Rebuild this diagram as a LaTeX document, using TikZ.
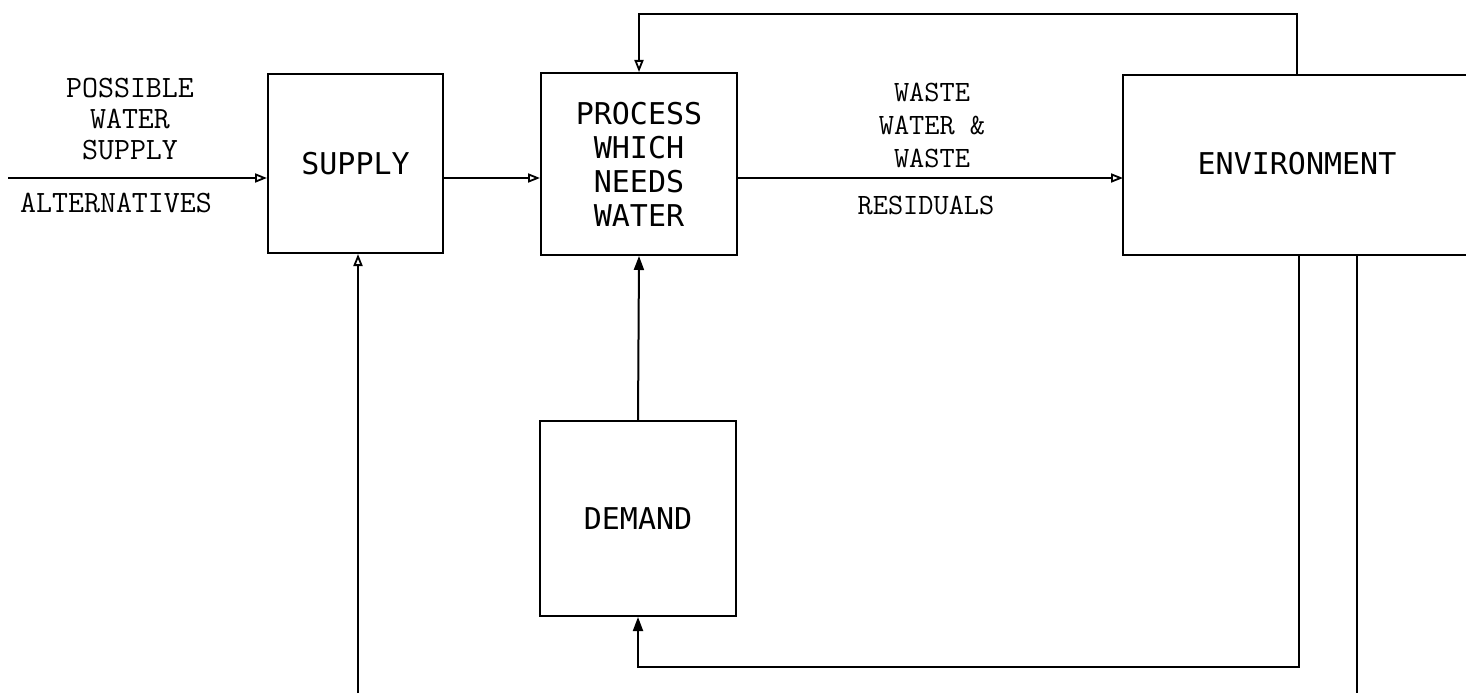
\documentclass[tikz,border=0pt]{standalone}
\usepackage{fontspec}
\newfontfamily\boxfont{DejaVu Sans Mono}
\usetikzlibrary{arrows.meta}
\tikzset{
  blk/.style={draw, line width=2pt, inner sep=0pt, align=center,
    font=\boxfont\fontsize{30}{34}\selectfont},
  lbl/.style={inner sep=0pt, align=center, font=\ttfamily\fontsize{31}{31}\selectfont},
  wlbl/.style={inner sep=0pt, align=center, font=\ttfamily\fontsize{29.5}{33}\selectfont},
  conn/.style={line width=2pt},
  oarrow/.style={conn, -{Triangle[open, length=12pt, width=9pt, line width=1.8pt]}},
  farrow/.style={conn, -{Triangle[length=14pt, width=10pt]}},
}
\begin{document}
\begin{tikzpicture}[x=1pt, y=-1pt]
\useasboundingbox (0,0) rectangle (1466,693);
% boxes
\node[blk, minimum width=175pt, minimum height=179pt] (supply) at (355.5,163.5) {SUPPLY};
\node[blk, minimum width=196pt, minimum height=182pt] (process) at (639,164) {PROCESS\\WHICH\\NEEDS\\WATER};
\node[blk, minimum width=196pt, minimum height=195pt] (demand) at (638,518.5) {DEMAND};
\node[inner sep=0pt, font=\boxfont\fontsize{30}{34}\selectfont] (env) at (1297,164) {ENVIRONMENT};
\coordinate (envNE) at (1466,75);
\coordinate (envNW) at (1123,75);
\coordinate (envSW) at (1123,255);
\coordinate (envSE) at (1466,255);
\draw[conn] (envNE) -- (envNW) -- (envSW) -- (envSE);
% labels
\node[lbl] (possible) at (130,119) {POSSIBLE\\WATER\\SUPPLY};
\node[lbl] (altern) at (116,203) {ALTERNATIVES};
\node[wlbl] (waste) at (932,125) {WASTE\\WATER \&\\WASTE};
\node[wlbl] (resid) at (926,205) {RESIDUALS};
% connectors
\coordinate (yline) at (0,178);
\coordinate (in) at (8,178);
\draw[oarrow] (in) -- (supply.west |- in);
\draw[oarrow] (supply.east |- yline) -- (process.west |- yline);
\draw[oarrow] (process.east |- yline) -- (envSW |- yline);
\coordinate (b1) at (358,693);
\draw[oarrow] (b1) -- (b1 |- supply.south);
\draw[farrow] (demand.north) -- (process.south);
\coordinate (et) at (1297,75);
\coordinate (t1) at (1297,14);
\draw[oarrow] (et) -- (t1) -| (process.north);
\coordinate (eb1) at (1299,255);
\coordinate (c1) at (1299,667);
\draw[farrow] (eb1) -- (c1) -| (demand.south);
\coordinate (eb2) at (1357,255);
\coordinate (eb2end) at (1357,693);
\draw[conn] (eb2) -- (eb2end);
\end{tikzpicture}
\end{document}
